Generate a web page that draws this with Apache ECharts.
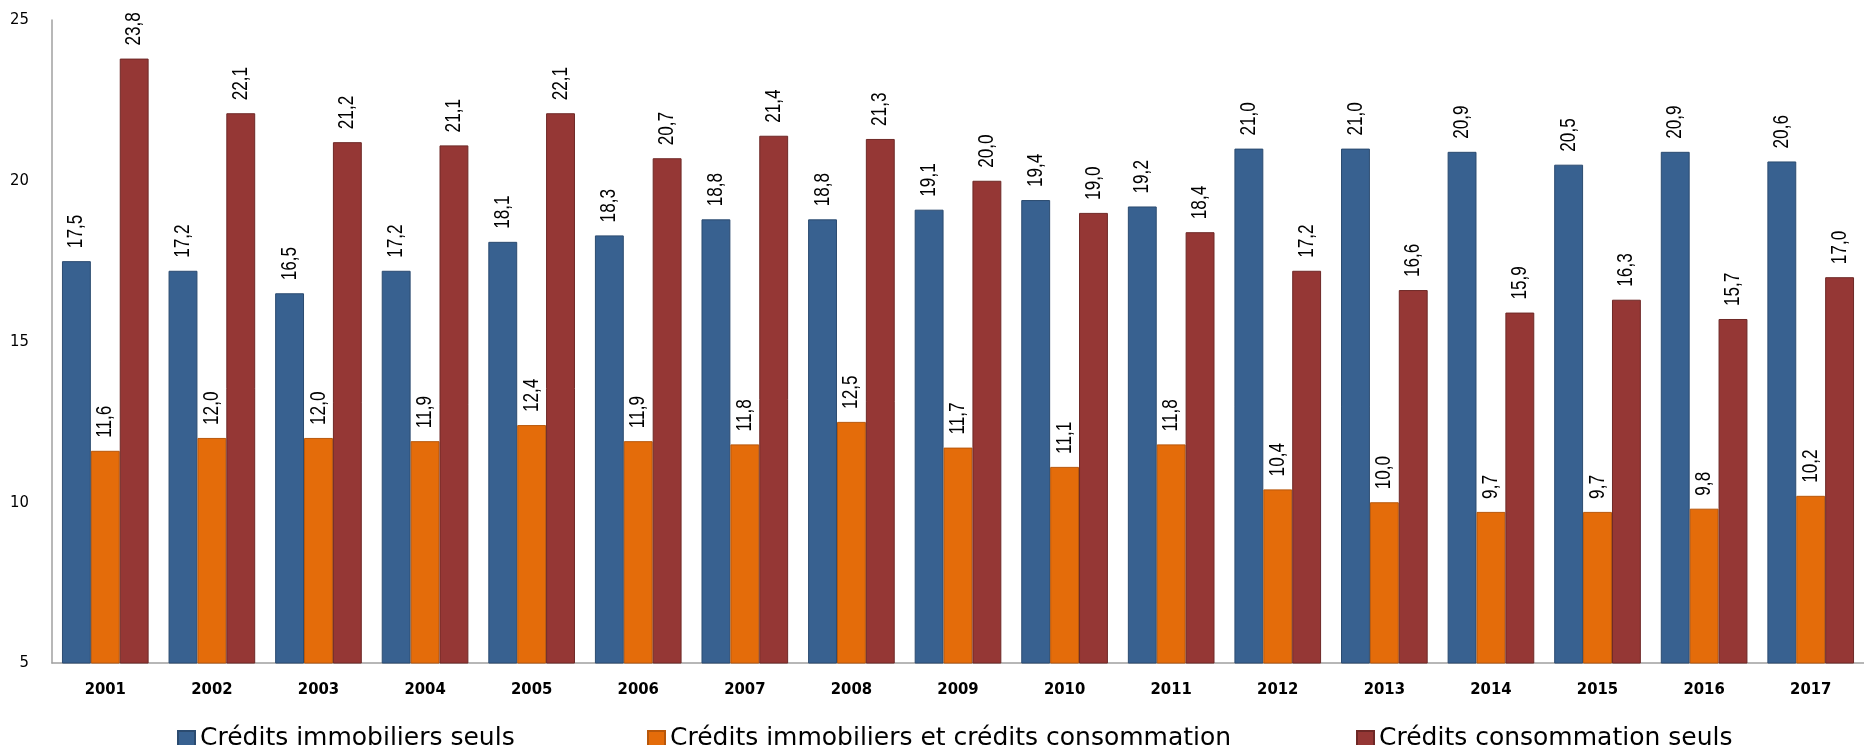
<!DOCTYPE html>
<html>
<head>
<meta charset="utf-8">
<script src="https://cdn.jsdelivr.net/npm/echarts@6/dist/echarts.min.js"></script>
<style>
html,body{margin:0;padding:0;background:#fff;}
#chart{width:1864px;height:745px;}
</style>
</head>
<body>
<div id="chart"></div>
<script>
const categories = ['2001','2002','2003','2004','2005','2006','2007','2008','2009','2010','2011','2012','2013','2014','2015','2016','2017'];
const seriesNames = ['Crédits immobiliers seuls','Crédits immobiliers et crédits consommation','Crédits consommation seuls'];
const immoSeuls = [17.5,17.2,16.5,17.2,18.1,18.3,18.8,18.8,19.1,19.4,19.2,21.0,21.0,20.9,20.5,20.9,20.6];
const immoEtConso = [11.6,12.0,12.0,11.9,12.4,11.9,11.8,12.5,11.7,11.1,11.8,10.4,10.0,9.7,9.7,9.8,10.2];
const consoSeuls = [23.8,22.1,21.2,21.1,22.1,20.7,21.4,21.3,20.0,19.0,18.4,17.2,16.6,15.9,16.3,15.7,17.0];
const yTicks = [5,10,15,20,25];

const colors = ['#386190','#E46C0A','#953735'];
const borders = ['#2B4B70','#B8570A','#6E2826'];
const axisFont = '"DejaVu Sans Condensed","DejaVu Sans",sans-serif';
const CAT_GAP = 0.187;

const chart = echarts.init(document.getElementById('chart'));

function fmt(v) { return v.toFixed(1).replace('.', ','); }

function mkBar(name, data, i) {
  return {
    name: name,
    type: 'bar',
    data: data,
    barGap: '0%',
    barCategoryGap: (CAT_GAP * 100) + '%',
    clip: true,
    itemStyle: { color: colors[i], borderColor: borders[i], borderWidth: 1 },
    label: { show: false }
  };
}

// value labels: condensed, rotated text placed via the axis scales
function mkLabels(data, k) {
  return {
    type: 'custom',
    name: 'lbl' + k,
    data: data.map((v, idx) => [idx, v]),
    encode: { x: 0, y: 1 },
    clip: false,
    silent: true,
    z: 5,
    renderItem: function (params, api) {
      const v = api.value(1);
      const pt = api.coord([api.value(0), v]);
      const band = api.size([1, 0])[0];
      const bw = band * (1 - CAT_GAP) / 3;
      return {
        type: 'text',
        x: pt[0] + (k - 1) * bw,
        y: pt[1] - 13,
        rotation: Math.PI / 2,
        scaleX: 0.78,
        style: {
          text: fmt(v),
          font: '22px "Liberation Sans", Arial, sans-serif',
          fill: '#000',
          align: 'left',
          verticalAlign: 'middle'
        }
      };
    }
  };
}

const legendText = { fontSize: 25, fontFamily: '"DejaVu Sans",sans-serif', color: '#000' };
const legendBase = { icon: 'rect', itemWidth: 17, itemHeight: 15, top: 721, textStyle: legendText, itemGap: 0 };

chart.setOption({
  animation: false,
  backgroundColor: '#fff',
  grid: { left: 52, top: 20, width: 1820, height: 643, containLabel: false },
  legend: [
    Object.assign({ left: 172, data: [seriesNames[0]] }, legendBase),
    Object.assign({ left: 642, data: [seriesNames[1]] }, legendBase),
    Object.assign({ left: 1351, data: [seriesNames[2]] }, legendBase)
  ],
  xAxis: {
    type: 'category',
    data: categories,
    axisLine: { show: true, lineStyle: { color: '#A0A0A0', width: 1.5 } },
    axisTick: { show: false },
    axisLabel: {
      margin: 18,
      fontSize: 16.5,
      fontWeight: 'bold',
      fontFamily: axisFont,
      color: '#000'
    }
  },
  yAxis: {
    type: 'value',
    min: yTicks[0],
    max: yTicks[yTicks.length - 1],
    interval: 5,
    splitLine: { show: false },
    axisLine: { show: true, lineStyle: { color: '#A0A0A0', width: 1.5 } },
    axisTick: { show: false },
    axisLabel: {
      margin: 23,
      fontSize: 16.5,
      fontFamily: axisFont,
      color: '#000'
    }
  },
  series: [
    mkBar(seriesNames[0], immoSeuls, 0),
    mkBar(seriesNames[1], immoEtConso, 1),
    mkBar(seriesNames[2], consoSeuls, 2),
    mkLabels(immoSeuls, 0),
    mkLabels(immoEtConso, 1),
    mkLabels(consoSeuls, 2)
  ]
});
</script>
</body>
</html>
